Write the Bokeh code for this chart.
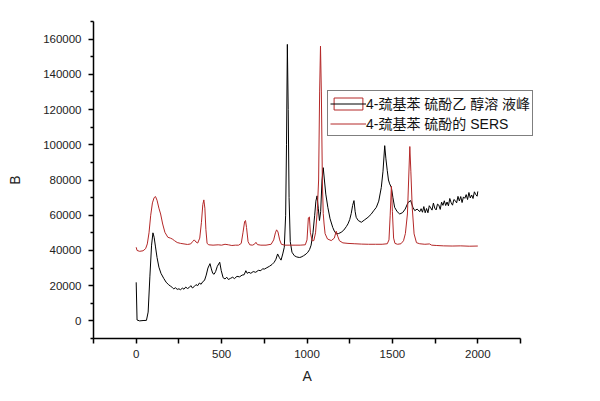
from bokeh.plotting import figure
from bokeh.models import (Range1d, FixedTicker, BasicTickFormatter, Legend, LegendItem, Title)
from bokeh.embed import file_html
from bokeh.resources import INLINE

# ---- data ----
black_x = [0, 5, 20, 40, 60, 70, 80, 90, 98, 105, 113, 122, 133, 145, 162, 175, 190, 200, 211, 220,
           230, 240, 250, 260, 270, 280, 290, 300, 310, 320, 329, 340, 350, 360, 370, 380, 390, 400,
           410, 420, 432, 440, 448, 456, 465, 475, 489, 498, 509, 520, 530, 540, 553, 565, 575, 590,
           605, 620, 632, 642, 650, 660, 671, 685, 700, 715, 730, 740, 750, 765, 780, 795, 808, 818,
           828, 838, 848, 858, 867, 875, 880, 885, 890, 895, 902, 912, 926, 940, 955, 965, 980, 995,
           1005, 1015, 1024, 1035, 1045, 1052, 1059, 1066, 1073, 1080, 1088, 1095, 1102, 1110, 1122,
           1135, 1151, 1160, 1171, 1185, 1200, 1215, 1230, 1240, 1250, 1259, 1267, 1275, 1282, 1288,
           1300, 1318, 1335, 1357, 1375, 1390, 1406, 1420, 1435, 1445, 1455, 1462, 1470, 1477, 1484,
           1494, 1503, 1513, 1528, 1543, 1560, 1575, 1592, 1607, 1620, 1631, 1645, 1660,
           1668, 1676, 1684, 1692, 1700, 1708, 1716, 1724, 1732, 1740, 1748, 1756, 1764, 1772, 1780,
           1788, 1796, 1804, 1812, 1820, 1828, 1836, 1844, 1852, 1860, 1868, 1876, 1884, 1892, 1900,
           1908, 1916, 1924, 1932, 1940, 1948, 1956, 1964, 1972, 1980, 1988, 1996, 2000]
black_y = [21900, 500, 0, 200, 300, 5000, 25000, 43000, 50000, 47500, 42000, 36000, 30500, 27000,
           24000, 22000, 20500, 19800, 19000, 18200, 18800, 17900, 18200, 17700, 18600, 18000, 19200,
           18400, 18900, 20000, 18700, 19500, 20600, 20000, 21500, 20800, 22300, 23000, 26000, 30000,
           32500, 29500, 27000, 26500, 28000, 31000, 33300, 28500, 24500, 23800, 24800, 23500, 24200,
           24800, 24000, 25300, 25000, 26000, 26200, 28500, 27000, 27600, 27000, 28000, 27600, 28700,
           28500, 29600, 29400, 30200, 31000, 32000, 33300, 35000, 38000, 36000, 34500, 38000, 41800,
           60000, 100000, 157000, 120000, 70000, 45000, 39000, 37000, 36300, 36000, 36200, 37000,
           38000, 39000, 40500, 43000, 50000, 60000, 68000, 71000, 64000, 57000, 62000, 80000, 87000,
           80000, 72000, 64500, 58000, 53000, 51000, 49400, 49600, 50300, 51500, 53500, 55100, 57500,
           61000, 65500, 68300, 62000, 58800, 57000, 56000, 57200, 58800, 60500, 62500, 64500, 68000,
           75800, 85000, 99500, 92000, 85300, 80000, 77800, 75800, 70000, 64500, 62000, 60700, 61500,
           63500, 67300, 68300, 64500, 62600, 63500, 62000,
           63700, 61700, 64900, 61400, 63800, 61400, 65400, 64200, 62900, 66900, 64000, 63000, 66300,
           65700, 63300, 67400, 65600, 68200, 65500, 67500, 65300, 69500, 67100, 65700, 68900, 68300,
           67000, 70700, 68100, 70600, 67200, 70400, 69600, 71700, 68900, 72900, 69800, 71500, 69500,
           73300, 71700, 70800, 73500]

red_x = [0, 5, 20, 40, 55, 65, 75, 85, 95, 105, 113, 122, 133, 143, 155, 168, 185, 200, 211, 225,
         240, 260, 280, 300, 319, 330, 340, 350, 360, 372, 382, 390, 396, 402, 408, 415, 425, 450,
         480, 500, 520, 540, 560, 580, 600, 615, 625, 635, 640, 646, 655, 665, 680, 692, 701, 710,
         730, 760, 790, 805, 815, 822, 830, 840, 850, 870, 900, 930, 960, 990, 1000, 1008, 1014,
         1020, 1030, 1040, 1050, 1060, 1068, 1074, 1079, 1084, 1090, 1095, 1100, 1106, 1120, 1142,
         1160, 1171, 1180, 1190, 1210, 1240, 1280, 1320, 1360, 1400, 1440, 1470, 1480, 1487, 1494,
         1500, 1507, 1515, 1530, 1550, 1565, 1576, 1588, 1595, 1602, 1608, 1616, 1627, 1641, 1660,
         1690, 1717, 1730, 1760, 1800, 1850, 1900, 1950, 2000]
red_y = [41800, 40000, 39500, 39800, 41000, 43700, 50000, 60000, 67000, 70000, 70600, 68500, 64000,
         60700, 55000, 50300, 47500, 47000, 46500, 45500, 44500, 44000, 43700, 43400, 43700, 45000,
         46000, 44800, 44200, 47000, 56000, 66000, 68700, 64000, 52000, 44000, 43200, 43000, 43200,
         43000, 43500, 43200, 42800, 43000, 43000, 44000, 50000, 56500, 57000, 53000, 45000, 43200,
         43000, 43500, 44600, 43300, 43000, 43000, 43500, 46000, 50000, 51700, 50500, 46000, 43500,
         43000, 43000, 43000, 43000, 43200, 46000, 58500, 59000, 50000, 45500, 45600, 50000, 62000,
         80000, 130000, 156000, 130000, 80000, 61000, 55000, 49500, 46500, 45600, 47000, 50900, 48000,
         45500, 44300, 44000, 43800, 43600, 43500, 43500, 43500, 43800, 46000, 60000, 76400, 62000,
         47000, 44000, 43500, 43800, 45500, 49600, 60700, 80000, 99000, 85000, 64500, 49400, 44400,
         43800, 43500, 43700, 43000, 42800, 42600, 42500, 42600, 42400, 42500]

x_major = [0, 500, 1000, 1500, 2000]
x_minor = [-250, 250, 750, 1250, 1750, 2250]
y_major = [0, 20000, 40000, 60000, 80000, 100000, 120000, 140000, 160000]
y_minor = [-10000, 10000, 30000, 50000, 70000, 90000, 110000, 130000, 150000, 170000]
x_axis_span = (-250, 2250)

x_title = "A"
y_title = "B"
label_black = "4-巯基苯 硫酚乙 醇溶 液峰"
label_red = "4-巯基苯 硫酚的 SERS"

RED = "#b42828"
FONT = "'Liberation Sans', Arial, 'Noto Sans CJK SC'"
NAN = float("nan")

# frame is widened to the right (same scale) so the legend can extend past the x axis end
W, H = 584, 393
FRAME_L, AXIS_R, FRAME_R, FRAME_T, FRAME_B = 93, 520, 578, 21, 338
x_end = x_axis_span[0] + (FRAME_R - FRAME_L) * (x_axis_span[1] - x_axis_span[0]) / (AXIS_R - FRAME_L)

p = figure(width=W, height=H, output_backend="svg", toolbar_location=None,
           x_range=Range1d(x_axis_span[0], x_end), y_range=Range1d(-10000, 170000),
           min_border_left=FRAME_L, min_border_right=W - FRAME_R, min_border_top=FRAME_T,
           min_border_bottom=H - FRAME_B)
p.outline_line_color = None
p.grid.visible = False
p.background_fill_color = "white"
p.border_fill_color = "white"

# legend-only swatch (the boxed symbol of the first legend entry); not drawn in the plot
swatch = p.quad(left=[NAN], right=[NAN], top=[NAN], bottom=[NAN],
                fill_color="white", fill_alpha=0, line_color=RED, line_width=1)
r_black = p.line(black_x, black_y, line_color="black", line_width=1)
r_red = p.line(red_x, red_y, line_color=RED, line_width=1)

p.xaxis.ticker = FixedTicker(ticks=x_major, minor_ticks=x_minor)
p.yaxis.ticker = FixedTicker(ticks=y_major, minor_ticks=y_minor)
p.yaxis.formatter = BasicTickFormatter(use_scientific=False)
p.xaxis.bounds = x_axis_span

for ax in (p.xaxis, p.yaxis):
    ax.axis_line_width = 1.5
    ax.axis_line_color = "black"
    ax.major_tick_line_width = 1.5
    ax.minor_tick_line_width = 1.5
    ax.major_tick_in = 0
    ax.minor_tick_in = 0
    ax.major_tick_out = 5
    ax.major_label_text_font = FONT
    ax.major_label_text_font_size = "11.5px"
    ax.major_label_text_color = "#222222"
    ax.axis_label_text_font = FONT
    ax.axis_label_text_font_size = "14px"
    ax.axis_label_text_font_style = "normal"
    ax.axis_label_text_color = "#222222"

p.xaxis.minor_tick_out = 5
p.yaxis.minor_tick_out = 3
p.xaxis.major_label_standoff = 6
p.yaxis.major_label_standoff = 7
p.yaxis.axis_label = y_title
p.yaxis.axis_label_standoff = 17

# x-axis title, centred under the drawn axis span (not under the widened frame)
x_title_center = (FRAME_L + AXIS_R) / 2 - FRAME_L
p.add_layout(Title(text=x_title, align="left", offset=x_title_center - 4.5, standoff=14,
                   vertical_align="top", text_font=FONT, text_font_size="14px",
                   text_font_style="normal", text_color="#222222"), "below")

legend = Legend(items=[LegendItem(label=label_black, renderers=[swatch, r_black]),
                       LegendItem(label=label_red, renderers=[r_red])],
                location=(234, 202), orientation="vertical",
                border_line_color="black", border_line_width=1,
                background_fill_color="white", background_fill_alpha=1,
                padding=2, spacing=0, margin=0,
                glyph_width=36, glyph_height=15, label_height=15, label_standoff=0,
                label_text_font=FONT, label_text_font_size="14px", label_text_color="#111111")
p.add_layout(legend, "center")

open("out.html", "w").write(file_html(p, INLINE))
